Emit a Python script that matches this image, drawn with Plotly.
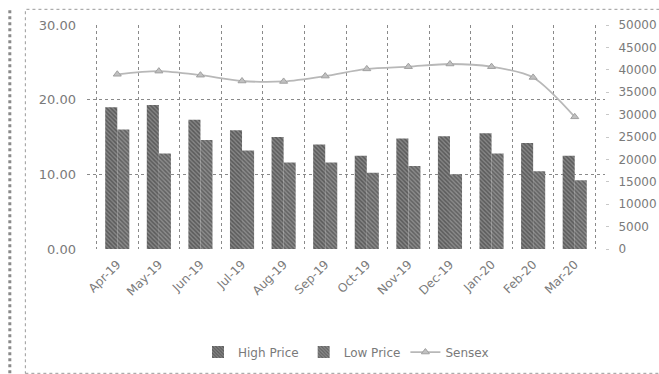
import plotly.graph_objects as go

months = ["Apr-19", "May-19", "Jun-19", "Jul-19", "Aug-19", "Sep-19",
          "Oct-19", "Nov-19", "Dec-19", "Jan-20", "Feb-20", "Mar-20"]
high_price = [19.0, 19.3, 17.3, 15.9, 15.0, 14.0, 12.5, 14.8, 15.1, 15.5, 14.2, 12.5]
low_price = [16.0, 12.8, 14.6, 13.2, 11.6, 11.6, 10.2, 11.1, 10.0, 12.8, 10.4, 9.2]
sensex = [39000, 39700, 38800, 37500, 37400, 38600, 40200, 40700, 41300, 40700, 38300, 29500]

left_ticks = [0, 10, 20, 30]
left_tick_text = ["0.00", "10.00", "20.00", "30.00"]
right_ticks = list(range(0, 50001, 5000))
right_tick_text = [str(v) for v in right_ticks]

font_family = "DejaVu Sans"
text_grey = "#7a7a7a"
grid_grey = "#8a8a8a"

fig = go.Figure()

fig.add_trace(go.Bar(
    x=months, y=high_price, name="High Price",
    marker=dict(color="#666666", line=dict(width=0),
                pattern=dict(shape="\\", fgcolor="#2e2e2e", bgcolor="#868686",
                             size=3, solidity=0.5)),
))
fig.add_trace(go.Bar(
    x=months, y=low_price, name="Low Price",
    marker=dict(color="#6a6a6a", line=dict(width=0),
                pattern=dict(shape="\\", fgcolor="#363636", bgcolor="#8c8c8c",
                             size=3, solidity=0.5)),
))
fig.add_trace(go.Scatter(
    x=months, y=sensex, name="Sensex", yaxis="y2",
    mode="lines+markers",
    line=dict(color="#b8b8b8", width=1.8, shape="spline", smoothing=0.8),
    marker=dict(symbol="triangle-up", size=7, color="#c0c0c0",
                line=dict(color="#a0a0a0", width=1)),
))

fig.update_layout(
    width=659, height=374,
    margin=dict(l=87, r=54, t=25, b=125, autoexpand=False),
    paper_bgcolor="white", plot_bgcolor="white",
    font=dict(family=font_family, size=12, color=text_grey),
    barmode="group", bargap=0.42, bargroupgap=0,
    showlegend=True,
    legend=dict(orientation="h", x=0.5, xanchor="center", y=-0.46, yanchor="middle",
                font=dict(size=12, color=text_grey), itemwidth=30,
                bgcolor="rgba(0,0,0,0)"),
    xaxis=dict(
        type="category", tickangle=-45, tickson="boundaries", automargin=False,
        showgrid=True, gridcolor=grid_grey, griddash="dot", gridwidth=1,
        showline=False, ticks="", zeroline=False,
        ticklabelstandoff=5,
        tickfont=dict(size=12, color=text_grey),
    ),
    yaxis=dict(
        range=[0, 30], tickvals=left_ticks, ticktext=left_tick_text, automargin=False,
        showgrid=True, gridcolor=grid_grey, griddash="dot", gridwidth=1,
        zeroline=False, showline=False, ticks="",
        ticklabelstandoff=10,
        tickfont=dict(size=13, color=text_grey),
    ),
    yaxis2=dict(
        overlaying="y", side="right", range=[0, 50000], automargin=False,
        tickvals=right_ticks, ticktext=right_tick_text,
        showgrid=False, zeroline=False, showline=False,
        ticks="outside", ticklen=3, tickcolor="#c8c8c8",
        ticklabelstandoff=7,
        tickfont=dict(size=12, color=text_grey),
    ),
)

# chart frame
fig.add_shape(type="rect", xref="paper", yref="paper",
              x0=-0.119, x1=1.3, y0=-0.555, y1=1.07,
              line=dict(color="#9a9a9a", width=1, dash="dot"),
              layer="below")
fig.add_shape(type="line", xref="paper", yref="paper",
              x0=-0.149, x1=-0.149, y0=-0.555, y1=1.07,
              line=dict(color="#8a8a8a", width=3, dash="dot"))

fig.write_html("out.html")
